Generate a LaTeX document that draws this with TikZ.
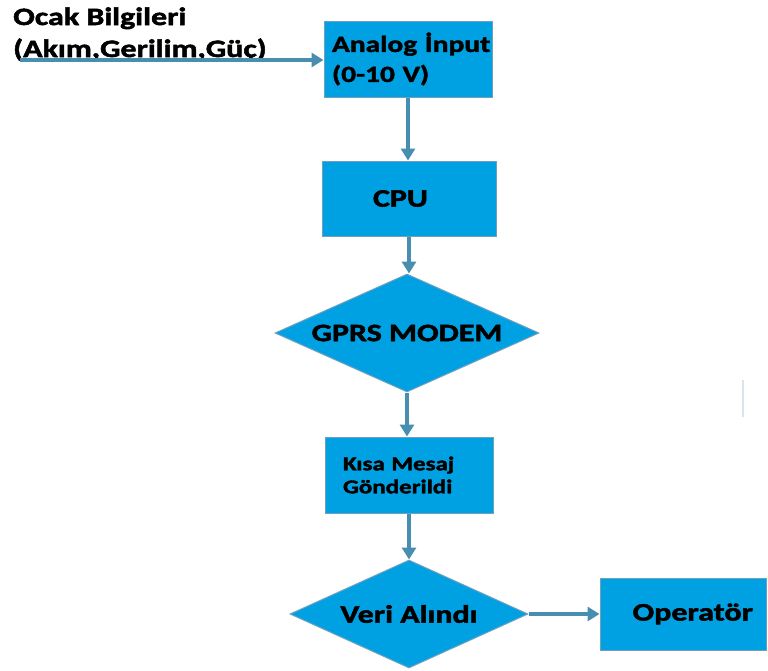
\documentclass[tikz,border=0pt]{standalone}
\usepackage{fontspec}
\setmainfont{Carlito}[FakeStretch=1.28, BoldFeatures={FakeBold=2}]
\usetikzlibrary{shapes.geometric,arrows.meta}

\definecolor{boxfill}{RGB}{0,161,226}
\definecolor{boxline}{RGB}{112,160,190}
\definecolor{flow}{RGB}{72,142,176}
\definecolor{faint}{RGB}{214,230,240}

\tikzset{
  blk/.style={draw=boxline, line width=1pt, fill=boxfill, rectangle,
    inner sep=0pt, font=\bfseries\fontsize{25}{30}\selectfont},
  dec/.style={draw=boxline, line width=1pt, fill=boxfill, diamond,
    inner sep=0pt, font=\bfseries\fontsize{25}{30}\selectfont},
  txt/.style={inner sep=0pt, font=\bfseries\fontsize{25}{30}\selectfont},
  flowarrow/.style={draw=flow, line width=4pt,
    -{Triangle[length=12pt,width=14pt]}}
}

\begin{document}
\begin{tikzpicture}[x=1pt,y=-1pt]
  \useasboundingbox (0,0) rectangle (768,670);

  % source description
  \node[txt, anchor=base west] (src1) at (13,25) {Ocak Bilgileri};
  \node[txt, anchor=base west] (src2) at (13,57) {(Akım,Gerilim,Güç)};
  \coordinate (feed) at (20,60);

  % blocks
  \node[blk, minimum width=168pt, minimum height=76pt, text width=152pt,
        inner xsep=8pt, align=left, font=\bfseries\fontsize{23}{30}\selectfont]
        (ain) at (408,59) {\mbox{Analog İnput}\\(0-10 V)};
  \node[blk, minimum width=174pt, minimum height=75pt, text width=72pt,
        inner xsep=51pt, align=left] (cpu) at (409,198.5) {CPU};
  \node[dec, minimum width=264pt, minimum height=118pt, aspect=2.24]
        (gprs) at (407,333) {GPRS MODEM};
  \node[blk, minimum width=168pt, minimum height=76pt, text width=132pt,
        inner xsep=18pt, align=left, font=\bfseries\fontsize{19.5}{23}\selectfont]
        (sms) at (409,475) {Kısa Mesaj\\Gönderildi};
  \node[dec, minimum width=238pt, minimum height=108pt, aspect=2.2]
        (veri) at (409,614) {Veri Alındı};
  \node[blk, minimum width=166pt, minimum height=72pt, text width=140pt,
        inner xsep=13pt, align=right] (op) at (683,614) {Operatör};

  % connectors
  \draw[flowarrow] (feed) -- (feed -| ain.west);
  \draw[flowarrow] (ain.south) -- (ain.south |- cpu.north);
  \draw[flowarrow] (cpu.south) -- (cpu.south |- gprs.north);
  \draw[flowarrow] (gprs.south) -- (gprs.south |- sms.north);
  \draw[flowarrow] (sms.south) -- (sms.south |- veri.north);
  \draw[flowarrow] (veri.east) -- (op.west);

  % faint stray stroke at the right
  \draw[faint, line width=2pt] (743,380) -- (743,417);
\end{tikzpicture}
\end{document}
